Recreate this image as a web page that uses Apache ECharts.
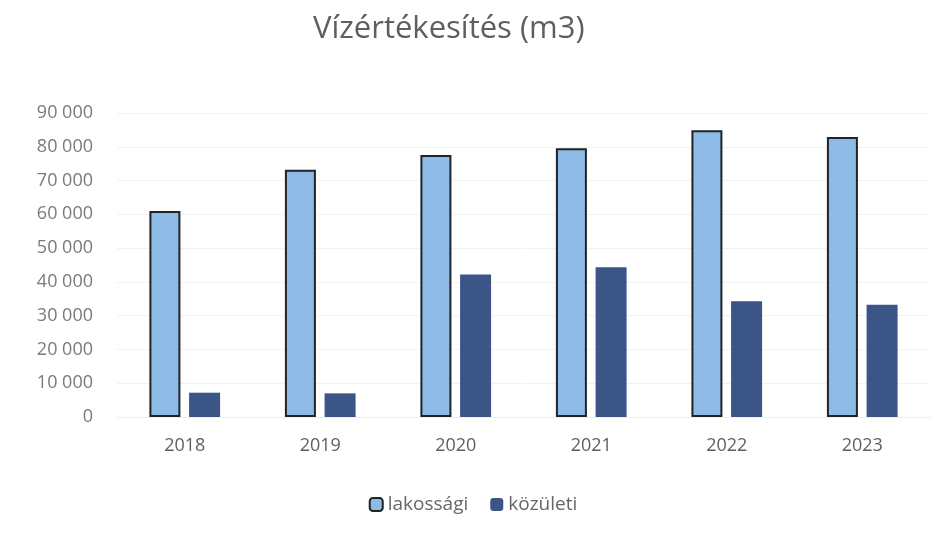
<!DOCTYPE html>
<html>
<head>
<meta charset="utf-8">
<script src="https://cdn.jsdelivr.net/npm/echarts@6/dist/echarts.min.js"></script>
<style>
  html, body { margin: 0; padding: 0; background: #ffffff; }
  #chart { width: 946px; height: 544px; }
</style>
</head>
<body>
<div id="chart"></div>
<script>
// Water sales per year, in cubic metres
const years = ['2018', '2019', '2020', '2021', '2022', '2023'];
const lakossagi = [61000, 73200, 77600, 79600, 84900, 82900];
const kozuleti = [7200, 7000, 42200, 44300, 34300, 33200];
const yTicks = [0, 10000, 20000, 30000, 40000, 50000, 60000, 70000, 80000, 90000];

const FONT = '"Open Sans", Lato, sans-serif';
const fmt = v => String(v).replace(/\B(?=(\d{3})+(?!\d))/g, ' ');

const chart = echarts.init(document.getElementById('chart'));
chart.setOption({
  backgroundColor: '#ffffff',
  animation: false,
  title: {
    text: 'Vízértékesítés (m3)',
    left: 308,
    top: 9,
    textStyle: { fontFamily: FONT, fontSize: 31, fontWeight: 'normal', color: '#5f5f5f' }
  },
  legend: {
    bottom: 25,
    left: 'center',
    itemWidth: 13,
    itemHeight: 13,
    itemGap: 22,
    textStyle: { fontFamily: FONT, fontSize: 19, color: '#666666' },
    data: ['lakossági', 'közületi']
  },
  grid: { left: 117, right: 16, top: 113, bottom: 127 },
  xAxis: {
    type: 'category',
    data: years,
    axisLine: { show: true, lineStyle: { color: '#eeeeee' } },
    axisTick: { show: false },
    axisLabel: { fontFamily: FONT, fontSize: 18, color: '#606060', margin: 20 }
  },
  yAxis: {
    type: 'value',
    min: yTicks[0],
    max: yTicks[yTicks.length - 1],
    interval: yTicks[1] - yTicks[0],
    axisLine: { show: false },
    axisTick: { show: false },
    splitLine: { lineStyle: { color: '#f2f2f2', width: 1 } },
    axisLabel: {
      fontFamily: FONT, fontSize: 18, color: '#7a7a7a', margin: 24,
      formatter: v => fmt(v)
    }
  },
  series: [
    {
      name: 'lakossági',
      type: 'bar',
      data: lakossagi,
      barWidth: 31,
      barGap: '28%',
      itemStyle: { color: '#8ebbe6', borderColor: '#1f2327', borderWidth: 2 }
    },
    {
      name: 'közületi',
      type: 'bar',
      data: kozuleti,
      barWidth: 31,
      itemStyle: { color: '#3b5587' }
    }
  ]
});
</script>
</body>
</html>
